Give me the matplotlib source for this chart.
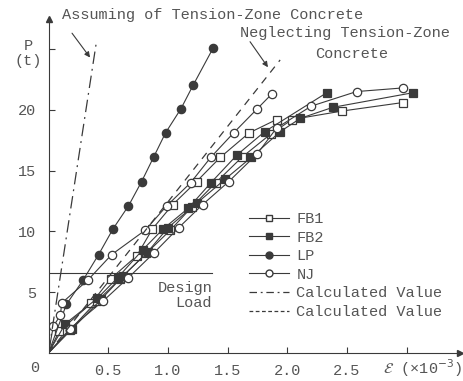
import numpy as np
import matplotlib.pyplot as plt
from matplotlib.lines import Line2D

# strain (x10^-3) and load P (t)
fb1a_e = [0, 0.09, 0.36, 0.52, 0.74, 0.87, 1.04, 1.24, 1.44, 1.68, 1.91]
fb1a_p = [0, 1.8, 4.1, 6.1, 8.0, 10.2, 12.2, 14.1, 16.1, 18.1, 19.2]
fb1b_e = [0, 0.18, 0.41, 0.60, 0.82, 1.02, 1.20, 1.40, 1.62, 1.86, 2.04, 2.46, 2.97]
fb1b_p = [0, 1.9, 4.3, 6.1, 8.2, 10.1, 12.0, 14.0, 16.1, 18.0, 19.2, 19.9, 20.6]

fb2a_e = [0, 0.14, 0.41, 0.58, 0.79, 0.96, 1.17, 1.36, 1.58, 1.81, 2.33]
fb2a_p = [0, 2.4, 4.5, 6.2, 8.5, 10.2, 11.9, 14.0, 16.3, 18.2, 21.4]
fb2b_e = [0, 0.20, 0.44, 0.62, 0.83, 1.00, 1.24, 1.48, 1.70, 1.94, 2.11, 2.38, 3.05]
fb2b_p = [0, 2.0, 4.4, 6.3, 8.3, 10.3, 12.3, 14.3, 16.1, 18.2, 19.3, 20.2, 21.4]

lp_e = [0, 0.15, 0.29, 0.42, 0.54, 0.67, 0.78, 0.88, 0.98, 1.11, 1.21, 1.38]
lp_p = [0, 4.0, 6.0, 8.1, 10.2, 12.1, 14.1, 16.1, 18.1, 20.1, 22.0, 25.1]

nj1_e = [0, 0.04, 0.10, 0.11, 0.33, 0.53, 0.81, 0.99, 1.19, 1.36, 1.55, 1.75, 1.87]
nj1_p = [0, 2.2, 3.1, 4.1, 6.0, 8.1, 10.1, 12.1, 14.0, 16.1, 18.1, 20.1, 21.3]
nj2_e = [0, 0.18, 0.46, 0.67, 0.88, 1.09, 1.29, 1.51, 1.75, 1.91, 2.20, 2.58, 2.97]
nj2_p = [0, 2.0, 4.3, 6.2, 8.2, 10.3, 12.2, 14.1, 16.4, 18.5, 20.3, 21.5, 21.8]

# calculated values (straight lines from origin)
calc_with_e = [0, 0.40]
calc_with_p = [0, 25.5]
calc_without_e = [0, 1.94]
calc_without_p = [0, 24.1]

design_load = 6.6
design_end = 1.37

x_ticks = [0.5, 1.0, 1.5, 2.0, 2.5, 3.0]
x_labels = ['0.5', '1.0', '1.5', '2.0', '2.5', '']
y_ticks = [5, 10, 15, 20, 25]
y_labels = ['5', '10', '15', '20', '']

ink = '#3a3a3a'
txt = '#555555'
plt.rcParams['font.family'] = ['Liberation Mono', 'DejaVu Sans Mono']

fig = plt.figure(figsize=(4.63, 3.81), dpi=100)
ax = fig.add_axes([48.5 / 463, 28 / 381, 3.45 * 119.4 / 463, 27.5 * 12.16 / 381])
ax.set_xlim(0, 3.45)
ax.set_ylim(0, 27.5)

def series(e, p, marker, fill):
    ax.plot(e, p, color=ink, lw=0.8, marker=marker, markersize=6,
            markerfacecolor=fill, markeredgecolor=ink, markeredgewidth=0.9,
            markevery=list(range(1, len(e))))

series(fb1a_e, fb1a_p, 's', 'white')
series(fb1b_e, fb1b_p, 's', 'white')
series(fb2a_e, fb2a_p, 's', ink)
series(fb2b_e, fb2b_p, 's', ink)
series(lp_e, lp_p, 'o', ink)
series(nj1_e, nj1_p, 'o', 'white')
series(nj2_e, nj2_p, 'o', 'white')

ax.plot(calc_with_e, calc_with_p, color=ink, lw=0.9, ls=(0, (10, 4, 1.5, 4)))
ax.plot(calc_without_e, calc_without_p, color=ink, lw=0.9, ls=(0, (6, 5)))

# design load
ax.plot([0, design_end], [design_load, design_load], color=ink, lw=0.8)
ax.text(1.37, 5.95, 'Design\nLoad', ha='right', va='top', fontsize=11,
        color=txt, linespacing=1.1)

# annotations
ax.text(0.113, 27.8, 'Assuming of Tension-Zone Concrete', fontsize=11, color=txt,
        ha='left', va='center', clip_on=False)
ax.annotate('', xy=(0.348, 24.3), xytext=(0.197, 26.3), annotation_clip=False,
            arrowprops=dict(arrowstyle='-|>', color=ink, lw=0.8, shrinkA=0, shrinkB=0,
                            mutation_scale=8))
ax.text(1.605, 26.3, 'Neglecting Tension-Zone', fontsize=11, color=txt,
        ha='left', va='center', clip_on=False)
ax.text(2.54, 24.55, 'Concrete', fontsize=11, color=txt,
        ha='center', va='center', clip_on=False)
ax.annotate('', xy=(1.838, 23.5), xytext=(1.688, 25.6), annotation_clip=False,
            arrowprops=dict(arrowstyle='-|>', color=ink, lw=0.8, shrinkA=0, shrinkB=0,
                            mutation_scale=8))

# axes
for s in ['top', 'right']:
    ax.spines[s].set_visible(False)
ax.spines['left'].set_color(ink)
ax.spines['bottom'].set_color(ink)
ax.plot(1, 0, '>', color=ink, markersize=5, transform=ax.transAxes, clip_on=False)
ax.plot(0, 1, '^', color=ink, markersize=5, transform=ax.transAxes, clip_on=False)

ax.set_xticks(x_ticks)
ax.set_xticklabels(x_labels)
ax.set_yticks(y_ticks)
ax.set_yticklabels(y_labels)
ax.tick_params(direction='in', length=4, color=ink, labelcolor=txt, labelsize=11)
ax.tick_params(axis='x', pad=8)
ax.tick_params(axis='y', pad=9)
ax.text(-0.113, -1.25, '0', fontsize=11, color=txt, ha='center', va='center')
ax.text(-0.17, 24.6, 'P\n(t)', fontsize=11, color=txt, ha='center', va='center',
        linespacing=1.1)
ax.text(2.80, -1.25, r'$\mathcal{E}$ (×10$^{-3}$)', fontsize=11, color=txt,
        ha='left', va='center')

handles = [
    Line2D([], [], color=ink, lw=0.8, marker='s', markerfacecolor='white', markeredgecolor=ink, markersize=5),
    Line2D([], [], color=ink, lw=0.8, marker='s', markerfacecolor=ink, markeredgecolor=ink, markersize=5),
    Line2D([], [], color=ink, lw=0.8, marker='o', markerfacecolor=ink, markeredgecolor=ink, markersize=5),
    Line2D([], [], color=ink, lw=0.8, marker='o', markerfacecolor='white', markeredgecolor=ink, markersize=5),
    Line2D([], [], color=ink, lw=0.9, ls=(0, (6, 3, 1.5, 3))),
    Line2D([], [], color=ink, lw=0.9, ls=(0, (3, 2))),
]
labels = ['FB1', 'FB2', 'LP', 'NJ', 'Calculated Value', 'Calculated Value']
leg = ax.legend(handles, labels, loc='upper left', bbox_to_anchor=(1.68, 11.6),
                bbox_transform=ax.transData, frameon=False, fontsize=11,
                handlelength=2.6, handletextpad=0.5, labelspacing=0.3,
                borderaxespad=0, borderpad=0)
for t in leg.get_texts():
    t.set_color(txt)

fig.savefig('out.png', dpi=100)
